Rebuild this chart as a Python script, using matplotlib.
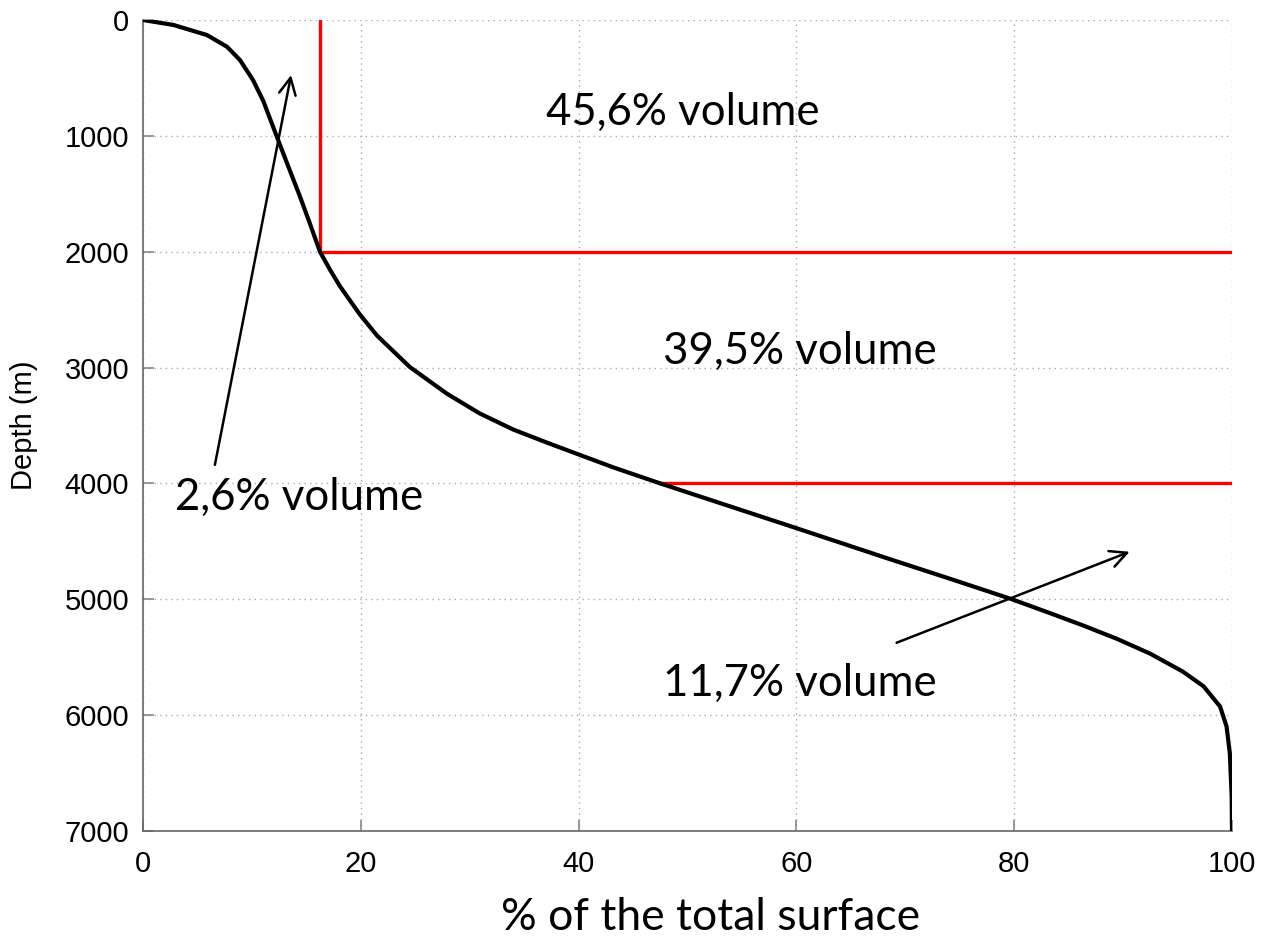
import matplotlib
matplotlib.use("Agg")
import matplotlib.pyplot as plt

# Hypsometric curve
surface_pct = [0, 2.8, 5.85, 7.7, 8.9, 10.1, 11.05, 12.1, 13.2, 14.4, 15.3, 16.25,
               17.2, 18.1, 19.9, 21.5, 24.5, 27.9, 30.9, 34.0, 37.1, 40.0, 43.2,
               47.5, 53.0, 60.0, 68.3, 74.4, 79.8, 83.3, 86.3, 89.4, 92.5, 95.5,
               97.4, 98.9, 99.5, 99.8, 99.97, 100.0]
depth_m = [0, 43, 129, 230, 345, 518, 700, 960, 1230, 1520, 1750, 2000,
           2160, 2300, 2540, 2725, 2995, 3225, 3395, 3535, 3648, 3750, 3862,
           4000, 4170, 4386, 4645, 4832, 5000, 5120, 5225, 5340, 5470, 5625,
           5752, 5925, 6097, 6327, 6701, 7000]

# Red boundary lines
boundary_depths = [2000, 4000]
boundary_x = [16.25, 47.5]

xticks = [0, 20, 40, 60, 80, 100]
yticks = [0, 1000, 2000, 3000, 4000, 5000, 6000, 7000]

labels = ["45,6% volume", "39,5% volume", "2,6% volume", "11,7% volume"]
label_x = [37.0, 47.75, 2.9, 47.75]
label_y = [794, 2865, 4124, 5729]

arrow_tails = [(6.6, 3840), (69.2, 5375)]
arrow_heads = [(13.6, 475), (90.6, 4590)]

W, H = 1264, 943
fig = plt.figure(figsize=(W / 100, H / 100), dpi=100)
ax = fig.add_axes([143 / W, (H - 831) / H, (1232 - 143) / W, (831 - 20) / H])

ax.plot(surface_pct, depth_m, color="black", lw=3.0, solid_joinstyle="round",
        solid_capstyle="butt", zorder=4)

red = "#ff0000"
ax.plot([boundary_x[0], boundary_x[0]], [0, boundary_depths[0]], color=red, lw=2.4, zorder=3)
for bx, bd in zip(boundary_x, boundary_depths):
    ax.plot([bx, 100], [bd, bd], color=red, lw=2.4, zorder=3)

ax.set_xlim(0, 100)
ax.set_ylim(7000, 0)
ax.set_xticks(xticks)
ax.set_yticks(yticks)
tick_font = ["Liberation Sans", "DejaVu Sans"]
ax.set_xticklabels([str(t) for t in xticks], fontsize=21, family=tick_font)
ax.set_yticklabels([str(t) for t in yticks], fontsize=21, family=tick_font)
ax.grid(True, linestyle=(0, (1, 3)), color="#aaaaaa", lw=1.0)

for s in ["top", "right"]:
    ax.spines[s].set_visible(False)
for s in ["left", "bottom"]:
    ax.spines[s].set_color("#666666")
    ax.spines[s].set_linewidth(1.2)
ax.tick_params(axis="both", direction="in", length=8, width=1.2, color="#888888")
ax.tick_params(axis="y", pad=10)
ax.tick_params(axis="x", pad=14)

fig.text(24 / W, 1 - 425 / H, "Depth (m)", rotation=90, ha="center", va="center",
         fontsize=21, family=tick_font)
fig.text(711 / W, 1 - 917 / H, "% of the total surface",
         ha="center", va="center", fontsize=32, family=["Lato", "DejaVu Sans"])

for t, x, y in zip(labels, label_x, label_y):
    ax.text(x, y, t, ha="left", va="center", fontsize=31.5,
            family=["Lato", "DejaVu Sans"], zorder=5)

for tail, head in zip(arrow_tails, arrow_heads):
    ax.annotate("", xy=head, xytext=tail,
                arrowprops=dict(arrowstyle="->", lw=1.8, color="black",
                                mutation_scale=30, shrinkA=0, shrinkB=0),
                zorder=6)

fig.savefig("out.png", dpi=100)
